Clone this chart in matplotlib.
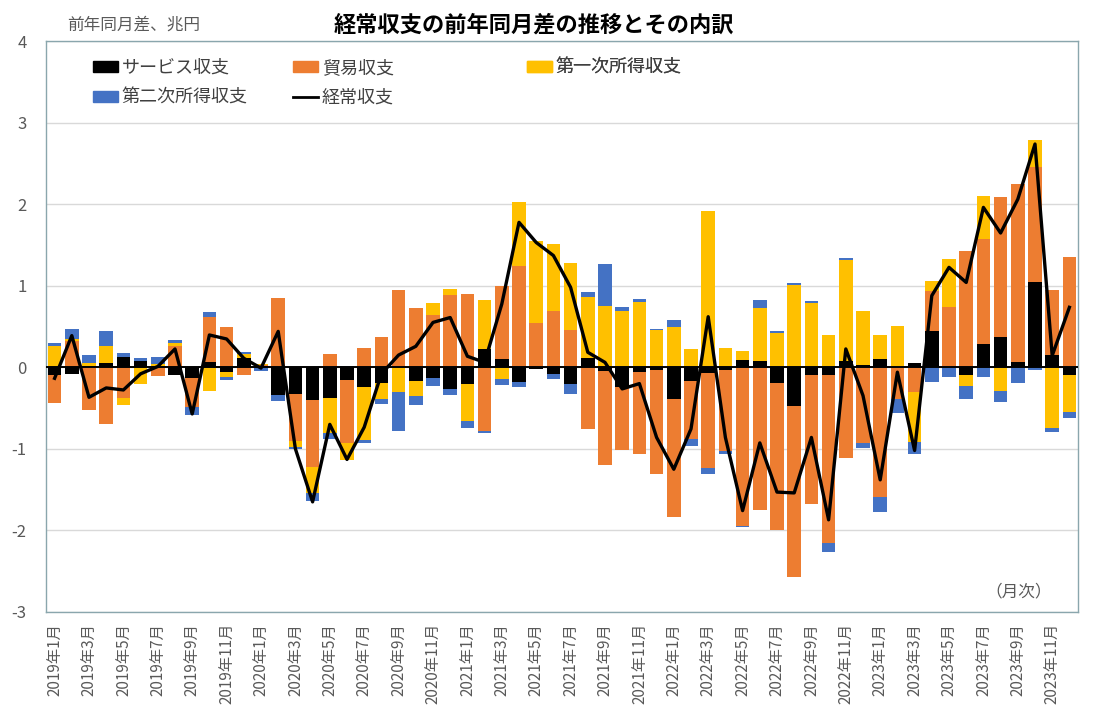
import numpy as np
import matplotlib
matplotlib.use('Agg')
import matplotlib.pyplot as plt
from matplotlib.patches import Patch
from matplotlib.lines import Line2D

plt.rcParams['font.family'] = ['Noto Sans CJK JP', 'DejaVu Sans']
plt.rcParams['axes.unicode_minus'] = False

# 2019年1月 - 2023年12月, 前年同月差 (兆円)
months = [f"{y}年{m}月" for y in range(2019, 2024) for m in range(1, 13)]

service = [-0.09, -0.08, 0.02, 0.05, 0.12, 0.08, 0.0, -0.10, -0.135, 0.07,
           -0.053, 0.114, 0.01, -0.34, -0.327, -0.396, -0.376, -0.155, -0.237, -0.19,
           0.0, -0.163, -0.13, -0.265, -0.204, 0.225, 0.10, -0.176, -0.02, -0.08,
           -0.204, 0.11, -0.04, -0.245, -0.06, -0.03, -0.39, -0.17, -0.073, -0.03,
           0.09, 0.073, -0.19, -0.48, -0.10, -0.09, 0.073, 0.03, 0.10, 0.0,
           0.05, 0.45, 0.0, -0.10, 0.286, 0.37, 0.07, 1.04, 0.15, -0.10]

trade = [-0.343, 0.327, -0.52, -0.70, -0.38, 0.0, -0.11, 0.265, -0.355, 0.55,
         0.494, -0.094, 0.02, 0.845, -0.572, -0.83, 0.163, -0.77, 0.24, 0.37,
         0.948, 0.727, 0.64, 0.886, 0.90, -0.78, 0.90, 1.238, 0.543, 0.69,
         0.457, -0.756, -1.156, -0.764, -1.0, -1.28, -1.44, -0.715, -1.164, -1.0,
         -1.94, -1.744, -1.8, -2.09, -1.58, -2.063, -1.115, -0.927, -1.59, -0.39,
         -0.306, 0.49, 0.735, 1.42, 1.287, 1.72, 2.18, 1.42, 0.80, 1.356]

primary = [0.265, 0.02, 0.03, 0.208, -0.08, -0.20, 0.04, 0.03, 0.0, -0.286,
           -0.06, 0.045, 0.01, 0.01, -0.082, -0.31, -0.43, -0.21, -0.66, -0.196,
           -0.306, -0.184, 0.147, 0.074, -0.45, 0.60, -0.143, 0.784, 1.0, 0.82,
           0.82, 0.756, 0.756, 0.69, 0.797, 0.453, 0.50, 0.225, 1.916, 0.237,
           0.106, 0.654, 0.42, 1.01, 0.79, 0.40, 1.24, 0.66, 0.30, 0.51,
           -0.605, 0.114, 0.59, -0.135, 0.53, -0.294, 0.0, 0.33, -0.743, -0.45]

secondary = [0.033, 0.12, 0.10, 0.184, 0.053, 0.03, 0.08, 0.04, -0.09, 0.057,
             -0.037, 0.03, -0.05, -0.07, -0.02, -0.106, -0.074, 0.01, -0.03, -0.06,
             -0.48, -0.12, -0.10, -0.08, -0.094, -0.02, -0.07, -0.07, 0.0, -0.06,
             -0.12, 0.057, 0.51, 0.053, 0.04, 0.016, 0.08, -0.086, -0.07, -0.03,
             -0.012, 0.098, 0.02, 0.02, 0.024, -0.106, 0.024, -0.065, -0.18, -0.175,
             -0.15, -0.184, -0.12, -0.15, -0.12, -0.135, -0.196, -0.03, -0.045, -0.07]

current = [-0.135, 0.388, -0.368, -0.253, -0.278, -0.08, 0.01, 0.225, -0.572, 0.396,
           0.347, 0.11, -0.01, 0.44, -1.0, -1.65, -0.70, -1.13, -0.735, -0.08,
           0.15, 0.257, 0.55, 0.61, 0.135, 0.06, 0.776, 1.777, 1.53, 1.37,
           0.98, 0.184, 0.06, -0.265, -0.2, -0.86, -1.25, -0.755, 0.62, -0.86,
           -1.757, -0.927, -1.53, -1.54, -0.86, -1.87, 0.225, -0.347, -1.38, -0.06,
           -1.02, 0.878, 1.225, 1.04, 1.96, 1.646, 2.06, 2.737, 0.143, 0.735]

series = [('サービス収支', service, '#000000'),
          ('貿易収支', trade, '#ED7D31'),
          ('第一次所得収支', primary, '#FFC000'),
          ('第二次所得収支', secondary, '#4472C4')]

gray = '#595959'
x = np.arange(len(months))

fig = plt.figure(figsize=(10.96, 7.18), dpi=100)
ax = fig.add_axes([46 / 1096, 1 - 612 / 718, 1032 / 1096, 571 / 718])

pos_bottom = np.zeros(len(x))
neg_bottom = np.zeros(len(x))
for name, vals, col in series:
    v = np.array(vals)
    bottom = np.where(v >= 0, pos_bottom, neg_bottom)
    ax.bar(x, v, width=0.8, bottom=bottom, color=col, zorder=2)
    pos_bottom += np.where(v >= 0, v, 0)
    neg_bottom += np.where(v < 0, v, 0)

ax.axhline(0, color='black', lw=1.4, zorder=3)
ax.plot(x, current, color='black', lw=2.4, zorder=4)

ax.set_xlim(-0.5, len(x) - 0.5)
ax.set_ylim(-3, 4)
ax.set_yticks(range(-3, 5))
ax.yaxis.grid(True, color='#d9d9d9', lw=1)
ax.set_axisbelow(True)
ax.set_xticks(x[::2])
ax.set_xticklabels(months[::2], rotation=90, fontsize=11, color=gray)
ax.tick_params(axis='both', length=0)
ax.tick_params(axis='y', labelsize=12, labelcolor=gray, pad=14)
ax.tick_params(axis='x', pad=8)
for s in ax.spines.values():
    s.set_color('#8aa6ad')
    s.set_linewidth(1)

# legend in three columns, placed like the original
def leg(handles, labels, xa):
    lg = ax.legend(handles, labels, loc='upper left', bbox_to_anchor=(xa, 0.969),
                   frameon=False, fontsize=13, borderpad=0, borderaxespad=0,
                   handlelength=1.4, handleheight=0.55, handletextpad=0.2,
                   labelspacing=0.68, labelcolor='#404040')
    ax.add_artist(lg)

leg([Patch(color='#000000'), Patch(color='#4472C4')], ['サービス収支', '第二次所得収支'], 0.0455)
leg([Patch(color='#ED7D31'), Line2D([], [], color='black', lw=2)], ['貿易収支', '経常収支'], 0.2393)
leg([Patch(color='#FFC000')], ['第一次所得収支'], 0.466)

ax.text(0.975, 0.035, '（月次）', transform=ax.transAxes, ha='right', va='center',
        fontsize=12, color=gray)

fig.text(534 / 1096, 1 - 25 / 718, '経常収支の前年同月差の推移とその内訳',
         ha='center', va='center', fontsize=16, fontweight='bold', color='black')
fig.text(67 / 1096, 1 - 25 / 718, '前年同月差、兆円', ha='left', va='center',
         fontsize=12, color=gray)

fig.savefig('out.png', dpi=100)
